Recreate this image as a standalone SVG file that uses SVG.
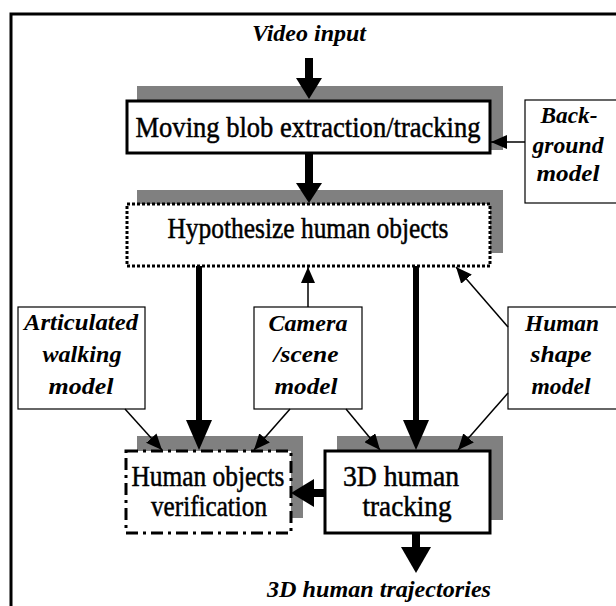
<svg xmlns="http://www.w3.org/2000/svg" width="616" height="606" viewBox="0 0 616 606">
<style>
.box{fill:#fff;stroke:#000;stroke-width:3}
.thin{fill:#fff;stroke:#000;stroke-width:1.2}
.sh{fill:#808080}
.t{font-family:"Liberation Serif","Times New Roman",serif;font-size:29px;text-anchor:middle;fill:#000;stroke:#000;stroke-width:0.5}
.it{font-family:"Liberation Serif","Times New Roman",serif;font-size:24px;font-style:italic;font-weight:bold;text-anchor:middle;fill:#000}
.ln{stroke:#000;stroke-width:1.5;fill:none}
.fill{fill:#000}
</style>
<defs>
<marker id="ah" markerWidth="16" markerHeight="14" refX="16" refY="7" orient="auto" markerUnits="userSpaceOnUse"><path d="M0,0 L16,7 L0,14 z" fill="#000"/></marker>
</defs>
<rect width="616" height="606" fill="#fff"/>
<path d="M11,606 V14 H616" fill="none" stroke="#000" stroke-width="3"/>

<g id="video-input"><text class="it" x="309" y="41" textLength="114" lengthAdjust="spacingAndGlyphs">Video input</text></g>

<g id="moving-blob">
<rect class="sh" x="137" y="86" width="366" height="64"/>
<rect class="box" x="127" y="101" width="363" height="52"/>
<text class="t" x="308" y="137" textLength="345" lengthAdjust="spacingAndGlyphs">Moving blob extraction/tracking</text>
</g>

<g id="background-model">
<rect class="thin" x="525" y="100" width="100" height="103"/>
<text class="it" x="569" y="123" textLength="57" lengthAdjust="spacingAndGlyphs">Back-</text>
<text class="it" x="568" y="153" textLength="71" lengthAdjust="spacingAndGlyphs">ground</text>
<text class="it" x="568" y="181" textLength="63" lengthAdjust="spacingAndGlyphs">model</text>
</g>

<g id="hypothesize">
<rect class="sh" x="137" y="190" width="366" height="63"/>
<rect class="box" x="127" y="204" width="363" height="62" stroke-dasharray="3 2"/>
<text class="t" x="308" y="238" textLength="281" lengthAdjust="spacingAndGlyphs">Hypothesize human objects</text>
</g>

<g id="articulated-model">
<rect class="thin" x="18" y="307" width="127" height="102"/>
<text class="it" x="81" y="330" textLength="114" lengthAdjust="spacingAndGlyphs">Articulated</text>
<text class="it" x="82" y="362" textLength="79" lengthAdjust="spacingAndGlyphs">walking</text>
<text class="it" x="81" y="394" textLength="65" lengthAdjust="spacingAndGlyphs">model</text>
</g>

<g id="camera-model">
<rect class="thin" x="254" y="307" width="108" height="102"/>
<text class="it" x="308" y="331" textLength="79" lengthAdjust="spacingAndGlyphs">Camera</text>
<text class="it" x="306" y="362" textLength="65" lengthAdjust="spacingAndGlyphs">/scene</text>
<text class="it" x="306" y="394" textLength="63" lengthAdjust="spacingAndGlyphs">model</text>
</g>

<g id="human-shape-model">
<rect class="thin" x="508" y="307" width="115" height="102"/>
<text class="it" x="562" y="331" textLength="74" lengthAdjust="spacingAndGlyphs">Human</text>
<text class="it" x="561" y="362" textLength="61" lengthAdjust="spacingAndGlyphs">shape</text>
<text class="it" x="561" y="394" textLength="59" lengthAdjust="spacingAndGlyphs">model</text>
</g>

<g id="verification">
<rect class="sh" x="137" y="436" width="166" height="82"/>
<rect class="box" x="126" y="451" width="165" height="82" stroke-dasharray="12 5 3 5"/>
<text class="t" x="208" y="486" textLength="153" lengthAdjust="spacingAndGlyphs">Human objects</text>
<text class="t" x="209" y="516" textLength="116" lengthAdjust="spacingAndGlyphs">verification</text>
</g>

<g id="tracking">
<rect class="sh" x="337" y="436" width="166" height="84"/>
<rect class="box" x="325" y="451" width="165" height="82"/>
<text class="t" x="401" y="486" textLength="116" lengthAdjust="spacingAndGlyphs">3D human</text>
<text class="t" x="407" y="516" textLength="89" lengthAdjust="spacingAndGlyphs">tracking</text>
</g>

<g id="trajectories"><text class="it" x="379" y="597" textLength="224" lengthAdjust="spacingAndGlyphs">3D human trajectories</text></g>

<g id="connectors">
<rect class="fill" x="305" y="58" width="8" height="21"/>
<polygon class="fill" points="296,78 322,78 309,99"/>
<rect class="fill" x="305" y="153" width="8" height="31"/>
<polygon class="fill" points="296,183 322,183 309,203"/>
<line class="ln" x1="525" y1="142" x2="491" y2="142" marker-end="url(#ah)"/>
<rect class="fill" x="196" y="266" width="6" height="156"/>
<polygon class="fill" points="186,420 212,420 199,450"/>
<rect class="fill" x="413" y="266" width="6" height="156"/>
<polygon class="fill" points="403,420 429,420 416,450"/>
<line class="ln" x1="308" y1="307" x2="308" y2="267" marker-end="url(#ah)"/>
<line class="ln" x1="508" y1="327" x2="456" y2="267" marker-end="url(#ah)"/>
<line class="ln" x1="125" y1="409" x2="162" y2="450" marker-end="url(#ah)"/>
<line class="ln" x1="290" y1="409" x2="254" y2="450" marker-end="url(#ah)"/>
<line class="ln" x1="346" y1="409" x2="380" y2="450" marker-end="url(#ah)"/>
<line class="ln" x1="508" y1="393" x2="458" y2="450" marker-end="url(#ah)"/>
<rect class="fill" x="313" y="489" width="12" height="8"/>
<polygon class="fill" points="314,479 314,507 291,493"/>
<rect class="fill" x="412" y="533" width="8" height="15"/>
<polygon class="fill" points="401,547 431,547 416,573"/>
</g>
</svg>
